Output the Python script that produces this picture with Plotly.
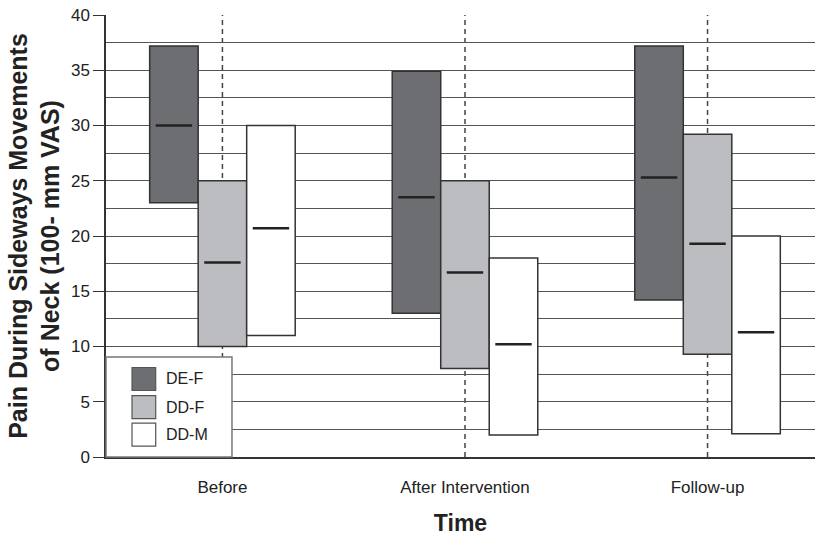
import plotly.graph_objects as go

categories = ["Before", "After Intervention", "Follow-up"]
series = ["DE-F", "DD-F", "DD-M"]

de_f_low = [23.0, 13.0, 14.2]
de_f_high = [37.2, 34.9, 37.2]
de_f_median = [30.0, 23.5, 25.3]

dd_f_low = [10.0, 8.0, 9.3]
dd_f_high = [25.0, 25.0, 29.2]
dd_f_median = [17.6, 16.7, 19.3]

dd_m_low = [11.0, 2.0, 2.1]
dd_m_high = [30.0, 18.0, 20.0]
dd_m_median = [20.7, 10.2, 11.3]

y_ticks = [0, 5, 10, 15, 20, 25, 30, 35, 40]

lows = [de_f_low, dd_f_low, dd_m_low]
highs = [de_f_high, dd_f_high, dd_m_high]
medians = [de_f_median, dd_f_median, dd_m_median]
fills = ["#6d6e71", "#bcbdc0", "#ffffff"]
offsets = [-0.2, 0.0, 0.2]
bar_w = 0.2

FONT = "Arial, Liberation Sans, sans-serif"

fig = go.Figure()
idx = list(range(len(categories)))

for s, lo, hi, fc, off in zip(series, lows, highs, fills, offsets):
    fig.add_trace(go.Bar(
        x=[i + off for i in idx],
        y=[h - l for h, l in zip(hi, lo)],
        base=lo,
        width=bar_w,
        name=s,
        marker=dict(color=fc, line=dict(color="#333333", width=1.5)),
        showlegend=False,
        hoverinfo="skip",
    ))

for s, med, off in zip(series, medians, offsets):
    fig.add_trace(go.Scatter(
        x=[i + off for i in idx],
        y=med,
        mode="markers",
        marker=dict(symbol="line-ew", size=26, line=dict(color="#222222", width=2.5)),
        showlegend=False,
        hoverinfo="skip",
    ))

# dashed vertical lines at category centers
for i in idx:
    fig.add_shape(type="line", x0=i, x1=i, y0=0, y1=40, xref="x", yref="y",
                  line=dict(color="#444444", width=1.5, dash="5px,4px"), layer="below")

# manual legend
fig.add_shape(type="rect", xref="paper", yref="paper", x0=0, x1=0.1777, y0=0, y1=0.2262,
              line=dict(color="#777777", width=1.5), fillcolor="white", layer="above")
row_y = [0.1765, 0.113, 0.0505]
for s, fc, ry in zip(series, fills, row_y):
    fig.add_shape(type="rect", xref="paper", yref="paper", x0=0.0367, x1=0.0701,
                  y0=ry - 0.026, y1=ry + 0.026,
                  line=dict(color="#555555", width=1.2), fillcolor=fc, layer="above")
    fig.add_annotation(x=0.0815, y=ry, xref="paper", yref="paper", text=s,
                       showarrow=False, xanchor="left", yanchor="middle",
                       font=dict(family=FONT, size=16, color="#222222"))

fig.update_layout(
    width=815, height=536,
    margin=dict(l=106, r=0, t=15, b=79),
    plot_bgcolor="white", paper_bgcolor="white",
    barmode="overlay",
    font=dict(family=FONT, size=17, color="#222222"),
    showlegend=False,
)
fig.update_xaxes(
    range=[-0.48, 2.443],
    tickvals=idx, ticktext=categories,
    ticks="", ticklabelstandoff=14,
    showgrid=False, zeroline=False,
    showline=True, linecolor="#333333", linewidth=1.5,
    title=dict(text="<b>Time</b>", font=dict(family=FONT, size=23, color="#222222"), standoff=23),
    tickfont=dict(size=17, color="#222222"),
)
fig.update_yaxes(
    range=[0, 40],
    tickvals=y_ticks,
    ticks="outside", ticklen=11, tickcolor="#333333", tickwidth=1.2,
    showgrid=True, gridcolor="#555555", gridwidth=1,
    minor=dict(tickvals=[v + 2.5 for v in y_ticks[:-1]], showgrid=True, gridcolor="#555555", gridwidth=1, ticks=""),
    zeroline=False,
    showline=True, linecolor="#333333", linewidth=1.5,
    title=dict(text="<b>Pain During Sideways Movements<br>of Neck (100- mm VAS)</b>",
               font=dict(family=FONT, size=25, color="#222222"), standoff=4),
    tickfont=dict(size=17, color="#222222"),
)

fig.write_html("out.html")
